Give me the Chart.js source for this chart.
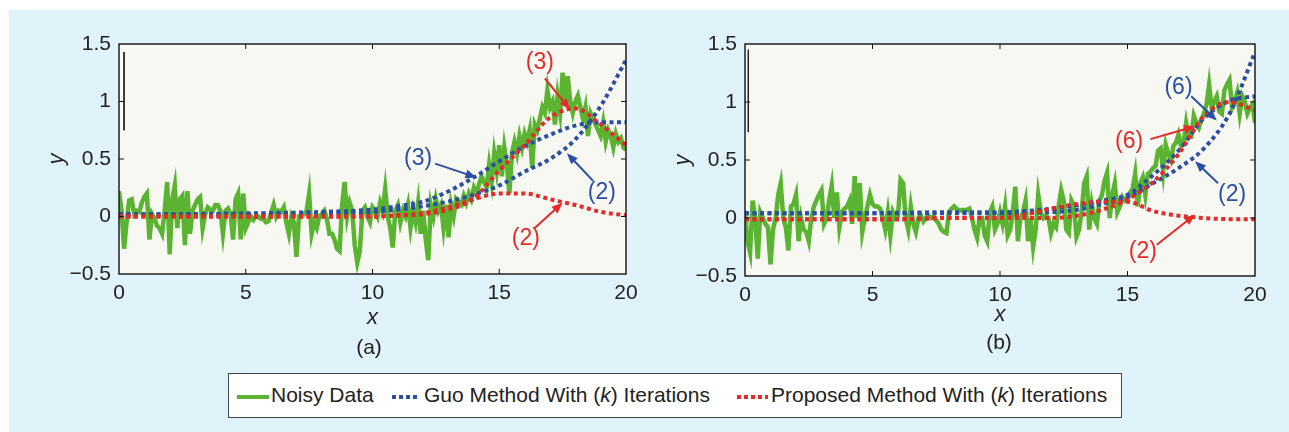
<!DOCTYPE html>
<html>
<head>
<meta charset="utf-8">
<script src="https://cdn.jsdelivr.net/npm/chart.js@4.4.1/dist/chart.umd.min.js"></script>
<style>
  html, body { margin: 0; padding: 0; background: #fff; }
  body { width: 1289px; height: 432px; position: relative; overflow: hidden; font-family: "Liberation Sans", Arial, sans-serif; }
  #panel { position: absolute; left: 9px; top: 10px; right: 0; bottom: 0; background: #e0f2fa; }
  canvas { position: absolute; top: 0; }
  .cap { position: absolute; font-size: 21px; color: #222; transform: translate(-50%, -50%); }
  #legend { position: absolute; left: 228px; top: 373px; width: 892px; height: 43px; background: #fff; border: 1px solid #444; }
  #legend span { position: absolute; }
  .txt { font-size: 21px; color: #222; top: 9px; line-height: 24px; white-space: nowrap; }
  .smp { top: 21px; height: 4px; }
</style>
</head>
<body>
<div id="panel"></div>
<canvas id="chartA" width="645" height="340" style="left:0px"></canvas>
<canvas id="chartB" width="644" height="340" style="left:645px"></canvas>
<div class="cap" style="left:369px; top:347px">(a)</div>
<div class="cap" style="left:999px; top:342px">(b)</div>
<div id="legend">
  <span class="smp" style="left:8px; width:32px; background:#5ab432"></span>
  <span class="txt" style="left:42px">Noisy Data</span>
  <span class="smp" style="left:163px; width:27px; background:repeating-linear-gradient(to right,#2c4ea3 0 4px,transparent 4px 7px)"></span>
  <span class="txt" style="left:195px">Guo Method With (<i>k</i>) Iterations</span>
  <span class="smp" style="left:508px; width:31px; background:repeating-linear-gradient(to right,#e42b2b 0 4px,transparent 4px 7px)"></span>
  <span class="txt" style="left:542px">Proposed Method With (<i>k</i>) Iterations</span>
</div>
<script>
// noisy samples, one every 0.1 on x from 0 to 20
var noiseStep = 0.1;
var noiseA = [
  0.22, 0.05, -0.28, -0.05, 0.14, 0.15, 0.02, 0.05, 0.04, 0.12, 0.17,
  0.2, -0.2, 0.02, -0.02, -0.08, -0.1, -0.15, 0.05, 0.3, -0.33,
  0.15, 0.27, -0.1, 0.15, 0.18, -0.25, 0.22, -0.15, 0.05, 0.1,
  0.15, 0.17, -0.1, 0.02, 0.08, 0.06, 0.05, 0.1, 0.1, 0.05,
  -0.15, 0.05, 0.07, 0.02, -0.2, 0.15, 0.2, -0.2, 0.2, -0.1,
  -0.05, 0.0, -0.03, 0.0, 0.0, -0.02, -0.02, -0.05, -0.04, 0.03,
  0.1, 0.0, 0.05, 0.04, 0.08, -0.05, -0.15, 0.0, -0.05, -0.35,
  0.0, 0.0, 0.02, 0.05, 0.2, -0.15, -0.05, -0.1, 0.0, 0.02,
  0.05, -0.02, -0.15, -0.15, -0.2, -0.28, -0.3, 0.1, 0.3, 0.0,
  0.12, 0.05, -0.25, -0.4, -0.3, 0.05, 0.08, 0.0, -0.05, 0.08,
  0.05, 0.0, 0.12, 0.05, 0.24, 0.0, -0.1, -0.27, 0.05, 0.1,
  -0.05, 0.05, 0.0, 0.1, -0.1, 0.05, -0.05, 0.12, -0.15, 0.05,
  -0.2, -0.38, 0.1, 0.0, 0.15, 0.05, 0.1, -0.1, 0.1, -0.18,
  0.1, 0.0, 0.15, 0.12, 0.1, 0.18, 0.12, 0.2, 0.15, 0.25,
  0.2, 0.28, 0.35, 0.3, 0.25, 0.45, 0.3, 0.55, 0.4, 0.62,
  0.35, 0.6, 0.45, 0.2, 0.55, 0.65, 0.55, 0.7, 0.6, 0.72,
  0.65, 0.75, 0.42, 0.8, 0.75, 0.85, 0.95, 0.9, 1.1, 0.95,
  1.0, 0.8, 1.05, 0.9, 1.25, 1.0, 1.22, 1.0, 0.9, 1.0,
  1.05, 0.95, 0.85, 0.95, 0.7, 0.9, 0.85, 0.8, 0.75, 0.7,
  0.82, 0.65, 0.75, 0.7, 0.6, 0.72, 0.65, 0.68, 0.6, 0.58
];
var noiseB = [
  0.05, -0.2, -0.3, 0.15, 0.0, -0.35, 0.05, 0.0, -0.05, -0.08, -0.4,
  -0.1, 0.0, 0.2, 0.3, 0.0, -0.08, -0.28, 0.1, 0.12, 0.2,
  -0.2, 0.0, -0.1, -0.12, -0.2, 0.0, 0.1, 0.15, 0.2, 0.24,
  -0.05, 0.0, 0.15, 0.28, 0.0, 0.22, -0.08, 0.05, 0.08, 0.1,
  0.15, -0.05, 0.36, 0.0, 0.3, -0.12, 0.0, 0.1, 0.2, 0.12,
  0.1, 0.1, 0.08, 0.0, -0.1, 0.05, -0.15, 0.05, 0.0, 0.02,
  0.33, 0.3, 0.0, -0.1, 0.1, -0.05, -0.12, 0.0, 0.02, -0.03,
  0.0, 0.02, 0.0, 0.01, -0.02, -0.05, -0.1, -0.12, -0.13, 0.05,
  0.08, 0.1, 0.08, 0.06, 0.07, 0.07, 0.07, 0.08, 0.0, -0.1,
  -0.17, 0.0, 0.0, -0.15, -0.2, 0.05, 0.1, -0.1, -0.05, 0.05,
  -0.05, 0.1, -0.15, -0.1, 0.05, 0.27, -0.2, 0.0, 0.05, 0.15,
  -0.2, 0.0, -0.25, -0.1, 0.2, 0.05, 0.0, 0.02, 0.0, -0.13,
  -0.05, -0.08, 0.1, 0.24, 0.15, -0.1, -0.13, 0.15, 0.1, -0.16,
  -0.1, 0.05, 0.3, 0.36, -0.1, 0.12, 0.0, -0.05, 0.15, 0.2,
  0.32, 0.39, 0.0, 0.2, 0.3, 0.05, 0.1, 0.18, 0.15, 0.16,
  0.22, 0.25, 0.38, 0.1, 0.3, 0.35, 0.2, 0.38, 0.4, 0.43,
  0.45, 0.58, 0.6, 0.4, 0.63, 0.55, 0.5, 0.62, 0.65, 0.72,
  0.62, 0.65, 0.82, 0.7, 0.7, 0.88, 0.82, 0.78, 0.85, 0.9,
  0.98, 1.15, 0.95, 1.0, 1.05, 0.92, 0.9, 1.1, 1.15, 1.19,
  0.95, 1.0, 1.08, 0.9, 1.05, 1.0, 0.9, 0.95, 0.98, 0.82
];

// smooth fits, sampled at these x
var curveX = [0, 2, 4, 6, 8, 10, 11, 12, 13, 14, 15, 16, 17, 18, 19, 20];
var guoA3  = [0.02, 0.02, 0.025, 0.03, 0.04, 0.06, 0.09, 0.13, 0.22, 0.34, 0.48, 0.61, 0.71, 0.79, 0.82, 0.82];
var guoA2  = [0.02, 0.02, 0.02, 0.025, 0.03, 0.04, 0.06, 0.09, 0.13, 0.19, 0.27, 0.39, 0.5, 0.67, 0.96, 1.36];
var propA3 = [0, 0, 0, 0, 0, 0, 0.01, 0.02, 0.06, 0.16, 0.4, 0.62, 0.86, 0.94, 0.8, 0.62];
var propA2 = [0, 0, 0, 0, 0, 0, 0.01, 0.03, 0.08, 0.15, 0.2, 0.2, 0.15, 0.1, 0.04, 0.01];
var guoB6  = [0.04, 0.04, 0.04, 0.045, 0.05, 0.05, 0.06, 0.08, 0.11, 0.15, 0.2, 0.37, 0.58, 0.86, 1.01, 1.05];
var guoB2  = [0.04, 0.04, 0.04, 0.04, 0.04, 0.04, 0.045, 0.05, 0.07, 0.12, 0.18, 0.3, 0.43, 0.6, 0.9, 1.43];
var propB6 = [-0.01, -0.01, -0.01, -0.01, 0, 0, 0, 0, 0.02, 0.07, 0.16, 0.31, 0.55, 0.88, 1.0, 0.93];
var propB2 = [-0.01, -0.01, -0.01, -0.01, 0, 0, 0.03, 0.08, 0.12, 0.14, 0.14, 0.06, 0.02, 0, -0.01, -0.01];

// stray vertical stroke near the left edge of each panel
var strokeA = [{x: 0.2, y: 1.43}, {x: 0.2, y: 0.75}];
var strokeB = [{x: 0.13, y: 1.45}, {x: 0.13, y: 0.74}];

var xTicks = [0, 5, 10, 15, 20];
var yTicks = [-0.5, 0, 0.5, 1, 1.5];
var yTickLabels = ['\u22120.5', '0', '0.5', '1', '1.5'];

// callouts: label position and arrow tail/tip, in data units
var notesA = [
  {text: '(3)', color: '#e42b2b', tx: 16.6, ty: 1.34, x0: 16.8, y0: 1.2, x1: 17.8, y1: 0.93},
  {text: '(3)', color: '#2c4ea3', tx: 11.8, ty: 0.5, x0: 12.47, y0: 0.46, x1: 14.1, y1: 0.34},
  {text: '(2)', color: '#2c4ea3', tx: 19.05, ty: 0.21, x0: 18.7, y0: 0.31, x1: 17.67, y1: 0.55},
  {text: '(2)', color: '#e42b2b', tx: 16.05, ty: -0.19, x0: 16.4, y0: -0.1, x1: 17.5, y1: 0.12}
];
var notesB = [
  {text: '(6)', color: '#2c4ea3', tx: 17.0, ty: 1.12, x0: 17.5, y0: 1.05, x1: 18.5, y1: 0.84},
  {text: '(6)', color: '#e42b2b', tx: 15.06, ty: 0.66, x0: 15.9, y0: 0.68, x1: 17.65, y1: 0.79},
  {text: '(2)', color: '#2c4ea3', tx: 19.1, ty: 0.2, x0: 18.55, y0: 0.3, x1: 17.65, y1: 0.49},
  {text: '(2)', color: '#e42b2b', tx: 15.6, ty: -0.29, x0: 16.15, y0: -0.23, x1: 17.65, y1: 0.03}
];

var GREEN = '#5ab432', BLUE = '#2c4ea3', RED = '#e42b2b';

function pts(xs, ys) {
  return ys.map(function (v, i) { return {x: xs[i], y: v}; });
}
function noisePts(ys) {
  return ys.map(function (v, i) { return {x: Math.round(i * noiseStep * 10) / 10, y: v}; });
}

var framePlugin = {
  id: 'frame',
  beforeDraw: function (chart) {
    var a = chart.chartArea, ctx = chart.ctx;
    ctx.save();
    ctx.fillStyle = '#f7f8f2';
    ctx.fillRect(a.left, a.top, a.right - a.left, a.bottom - a.top);
    ctx.restore();
  },
  afterDatasetsDraw: function (chart) {
    var a = chart.chartArea, ctx = chart.ctx;
    var sx = chart.scales.x, sy = chart.scales.y;
    ctx.save();
    ctx.strokeStyle = '#111';
    ctx.lineWidth = 1.4;
    ctx.strokeRect(a.left, a.top, a.right - a.left, a.bottom - a.top);
    ctx.lineWidth = 1;
    ctx.beginPath();
    xTicks.slice(1, -1).forEach(function (t) {
      var px = sx.getPixelForValue(t);
      ctx.moveTo(px, a.bottom); ctx.lineTo(px, a.bottom - 5);
      ctx.moveTo(px, a.top); ctx.lineTo(px, a.top + 5);
    });
    yTicks.slice(1, -1).forEach(function (t) {
      var py = sy.getPixelForValue(t);
      ctx.moveTo(a.left, py); ctx.lineTo(a.left + 5, py);
      ctx.moveTo(a.right, py); ctx.lineTo(a.right - 5, py);
    });
    ctx.stroke();

    var notes = chart.options.plugins.frame.notes;
    ctx.font = '23px "Liberation Sans", Arial, sans-serif';
    ctx.textAlign = 'center';
    ctx.textBaseline = 'middle';
    notes.forEach(function (n) {
      ctx.fillStyle = n.color;
      ctx.strokeStyle = n.color;
      ctx.fillText(n.text, sx.getPixelForValue(n.tx), sy.getPixelForValue(n.ty));
      var x0 = sx.getPixelForValue(n.x0), y0 = sy.getPixelForValue(n.y0);
      var x1 = sx.getPixelForValue(n.x1), y1 = sy.getPixelForValue(n.y1);
      var ang = Math.atan2(y1 - y0, x1 - x0);
      ctx.lineWidth = 2;
      ctx.beginPath();
      ctx.moveTo(x0, y0);
      ctx.lineTo(x1 - 8 * Math.cos(ang), y1 - 8 * Math.sin(ang));
      ctx.stroke();
      ctx.beginPath();
      ctx.moveTo(x1, y1);
      ctx.lineTo(x1 - 11 * Math.cos(ang) + 4.5 * Math.sin(ang), y1 - 11 * Math.sin(ang) - 4.5 * Math.cos(ang));
      ctx.lineTo(x1 - 11 * Math.cos(ang) - 4.5 * Math.sin(ang), y1 - 11 * Math.sin(ang) + 4.5 * Math.cos(ang));
      ctx.closePath();
      ctx.fill();
    });
    ctx.restore();
  }
};

function makeChart(id, noise, blues, reds, stroke, notes, pad, titlePadX) {
  var ds = [];
  ds.push({data: stroke, borderColor: '#222', borderWidth: 1, pointRadius: 0});
  reds.forEach(function (r) {
    ds.push({data: pts(curveX, r), borderColor: RED, borderWidth: 4, borderDash: [4, 3.5],
      pointRadius: 0, cubicInterpolationMode: 'monotone'});
  });
  blues.forEach(function (b) {
    ds.push({data: pts(curveX, b), borderColor: BLUE, borderWidth: 4, borderDash: [4, 3.5],
      pointRadius: 0, cubicInterpolationMode: 'monotone'});
  });
  ds.push({data: noisePts(noise), borderColor: GREEN, borderWidth: 4.5, pointRadius: 0, tension: 0,
    borderJoinStyle: 'miter'});

  var tickFont = {family: '"Liberation Sans", Arial, sans-serif', size: 21};
  return new Chart(document.getElementById(id), {
    type: 'line',
    data: {datasets: ds},
    options: {
      responsive: false,
      animation: false,
      layout: {padding: pad},
      plugins: {legend: {display: false}, tooltip: {enabled: false}, frame: {notes: notes}},
      scales: {
        x: {
          type: 'linear', min: 0, max: 20,
          afterBuildTicks: function (s) { s.ticks = xTicks.map(function (v) { return {value: v}; }); },
          afterFit: function (s) { s.height = 60; },
          grid: {display: false, drawTicks: false},
          border: {display: false},
          ticks: {font: tickFont, color: '#222', padding: 7, maxRotation: 0},
          title: {display: true, text: 'x', color: '#222', padding: {top: 0, bottom: titlePadX},
            font: {family: '"Liberation Sans", Arial, sans-serif', size: 22, style: 'italic'}}
        },
        y: {
          type: 'linear', min: -0.5, max: 1.5,
          afterBuildTicks: function (s) { s.ticks = yTicks.map(function (v) { return {value: v}; }); },
          afterFit: function (s) { s.width = 79; },
          grid: {display: false, drawTicks: false},
          border: {display: false},
          ticks: {font: tickFont, color: '#222', padding: 8,
            callback: function (v) { return yTickLabels[yTicks.indexOf(v)]; }},
          title: {display: true, text: 'y', color: '#222', padding: {top: 4, bottom: 0},
            font: {family: '"Liberation Sans", Arial, sans-serif', size: 22, style: 'italic'}}
        }
      }
    },
    plugins: [framePlugin]
  });
}

makeChart('chartA', noiseA, [guoA3, guoA2], [propA3, propA2], strokeA, notesA,
  {left: 40, right: 19, top: 44, bottom: 6}, 3);
makeChart('chartB', noiseB, [guoB6, guoB2], [propB6, propB2], strokeB, notesB,
  {left: 21, right: 34, top: 44, bottom: 4}, 8);
</script>
</body>
</html>
